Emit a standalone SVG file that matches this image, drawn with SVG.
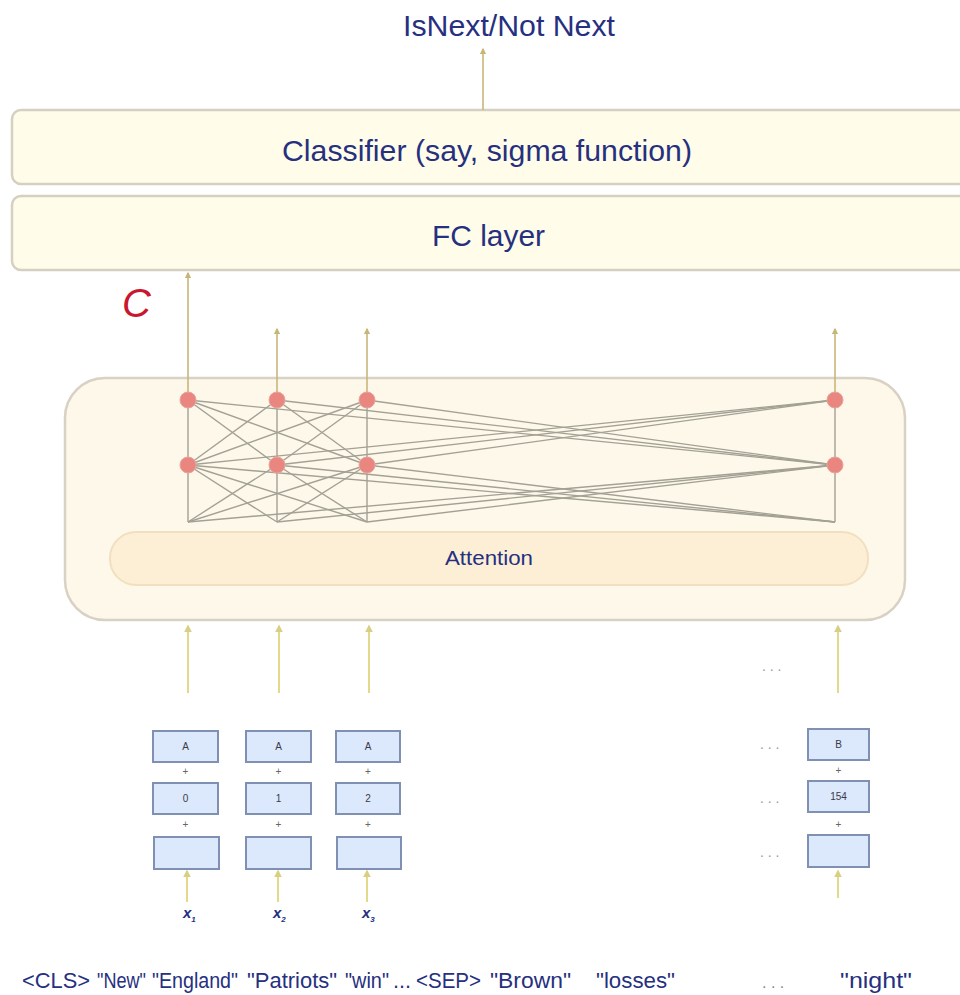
<svg xmlns="http://www.w3.org/2000/svg" width="960" height="995" viewBox="0 0 960 995">
  <defs>
    <style>
      .lbl { font-family: "Liberation Sans", Arial, sans-serif; fill: #26307f; }
      .big { font-size: 30px; }
      .layer { fill: #fffdea; stroke: #d6d0c2; stroke-width: 2.5; }
      .enc { fill: #fdf8ea; stroke: #d8d1c4; stroke-width: 2.5; }
      .att { fill: #fdefd6; stroke: #f1e0bf; stroke-width: 2; }
      .emb { fill: #dce8fb; stroke: #7f90b2; stroke-width: 2; }
      .embt { font-family: "Liberation Sans", Arial, sans-serif; font-size: 10px; fill: #3a3a4a; text-anchor: middle; }
      .plus { font-family: "Liberation Sans", Arial, sans-serif; font-size: 10px; fill: #666; text-anchor: middle; }
      .node { fill: #e8867f; stroke: #e8a39d; stroke-width: 1; }
      .mesh line { stroke: #a3a194; stroke-width: 1.4; }
      .up { stroke: #c8b679; stroke-width: 1.6; fill: none; marker-end: url(#ah); }
      .upin { stroke: #e3d98a; stroke-width: 2; fill: none; marker-end: url(#ahin); }
      .dots { font-family: "Liberation Sans", Arial, sans-serif; font-size: 14px; fill: #9a9a9a; }
    </style>
    <marker id="ah" viewBox="0 0 10 10" refX="8" refY="5" markerWidth="4" markerHeight="4" orient="auto">
      <path d="M0,0 L10,5 L0,10 z" fill="#c8b679"/>
    </marker>
    <marker id="ahin" viewBox="0 0 10 10" refX="8" refY="5" markerWidth="4" markerHeight="4" orient="auto">
      <path d="M0,0 L10,5 L0,10 z" fill="#d9cf84"/>
    </marker>
  </defs>

  <rect width="960" height="995" fill="#ffffff"/>

  <!-- output label -->
  <g id="output">
    <text class="lbl big" x="403" y="36" textLength="212" lengthAdjust="spacingAndGlyphs">IsNext/Not Next</text>
  </g>

  <!-- classifier head -->
  <g id="classifier">
    <rect class="layer" x="12" y="110" width="966" height="74" rx="9"/>
    <text class="lbl big" x="282" y="161" textLength="410" lengthAdjust="spacingAndGlyphs">Classifier (say, sigma function)</text>
  </g>
  <g id="fc">
    <rect class="layer" x="12" y="196" width="966" height="74" rx="9"/>
    <text class="lbl big" x="432" y="246" textLength="113" lengthAdjust="spacingAndGlyphs">FC layer</text>
  </g>

  <!-- pooled CLS output -->
  <g id="c-label">
    <text x="122" y="317" font-family="Liberation Sans, Arial, sans-serif" font-size="40" font-style="italic" fill="#c8172f">C</text>
  </g>

  <!-- encoder block -->
  <g id="encoder">
    <rect class="enc" x="65" y="378" width="840" height="242" rx="40"/>
  </g>
  <g id="attention">
    <rect class="att" x="110" y="532" width="758" height="53" rx="26"/>
    <text class="lbl" x="445" y="565" font-size="21" textLength="88" lengthAdjust="spacingAndGlyphs">Attention</text>
  </g>

  <!-- attention mesh and arrows -->
  <g id="connectors">
    <g class="mesh">
      <!-- verticals -->
      <line x1="188" y1="400" x2="188" y2="522"/>
      <line x1="277" y1="400" x2="277" y2="522"/>
      <line x1="367" y1="400" x2="367" y2="522"/>
      <line x1="835" y1="400" x2="835" y2="522"/>
      <!-- top row to middle row -->
      <line x1="188" y1="400" x2="277" y2="465"/>
      <line x1="188" y1="400" x2="367" y2="465"/>
      <line x1="188" y1="400" x2="835" y2="465"/>
      <line x1="277" y1="400" x2="188" y2="465"/>
      <line x1="277" y1="400" x2="367" y2="465"/>
      <line x1="277" y1="400" x2="835" y2="465"/>
      <line x1="367" y1="400" x2="188" y2="465"/>
      <line x1="367" y1="400" x2="277" y2="465"/>
      <line x1="367" y1="400" x2="835" y2="465"/>
      <line x1="835" y1="400" x2="188" y2="465"/>
      <line x1="835" y1="400" x2="277" y2="465"/>
      <line x1="835" y1="400" x2="367" y2="465"/>
      <!-- middle row to inputs -->
      <line x1="188" y1="465" x2="277" y2="522"/>
      <line x1="188" y1="465" x2="367" y2="522"/>
      <line x1="188" y1="465" x2="835" y2="522"/>
      <line x1="277" y1="465" x2="188" y2="522"/>
      <line x1="277" y1="465" x2="367" y2="522"/>
      <line x1="277" y1="465" x2="835" y2="522"/>
      <line x1="367" y1="465" x2="188" y2="522"/>
      <line x1="367" y1="465" x2="277" y2="522"/>
      <line x1="367" y1="465" x2="835" y2="522"/>
      <line x1="835" y1="465" x2="188" y2="522"/>
      <line x1="835" y1="465" x2="277" y2="522"/>
      <line x1="835" y1="465" x2="367" y2="522"/>
    </g>
    <!-- outputs going up -->
    <line class="up" x1="483" y1="110" x2="483" y2="49"/>
    <line class="up" x1="188" y1="392" x2="188" y2="273"/>
    <line class="up" x1="277" y1="392" x2="277" y2="329"/>
    <line class="up" x1="367" y1="392" x2="367" y2="329"/>
    <line class="up" x1="835" y1="392" x2="835" y2="329"/>
    <!-- inputs into encoder -->
    <line class="upin" x1="188" y1="693" x2="188" y2="626"/>
    <line class="upin" x1="279" y1="693" x2="279" y2="626"/>
    <line class="upin" x1="369" y1="693" x2="369" y2="626"/>
    <line class="upin" x1="838" y1="693" x2="838" y2="626"/>
    <!-- tokens into embeddings -->
    <line class="upin" x1="187" y1="902" x2="187" y2="871"/>
    <line class="upin" x1="278" y1="902" x2="278" y2="871"/>
    <line class="upin" x1="367" y1="902" x2="367" y2="871"/>
    <line class="upin" x1="838" y1="898" x2="838" y2="871"/>
  </g>

  <!-- hidden units -->
  <g id="nodes">
    <circle class="node" cx="188" cy="400" r="8"/>
    <circle class="node" cx="277" cy="400" r="8"/>
    <circle class="node" cx="367" cy="400" r="8"/>
    <circle class="node" cx="835" cy="400" r="8"/>
    <circle class="node" cx="188" cy="465" r="8"/>
    <circle class="node" cx="277" cy="465" r="8"/>
    <circle class="node" cx="367" cy="465" r="8"/>
    <circle class="node" cx="835" cy="465" r="8"/>
  </g>

  <!-- input embeddings: segment + position + token -->
  <g id="emb1">
    <rect class="emb" x="153" y="731" width="65" height="31"/>
    <text class="embt" x="185.5" y="750">A</text>
    <text class="plus" x="185.5" y="775">+</text>
    <rect class="emb" x="153" y="783" width="65" height="31"/>
    <text class="embt" x="185.5" y="802">0</text>
    <text class="plus" x="185.5" y="828">+</text>
    <rect class="emb" x="154" y="837" width="65" height="32"/>
    <text class="lbl" x="183" y="918" font-size="15" font-style="italic" font-weight="bold">x<tspan font-size="8" dy="4">1</tspan></text>
  </g>
  <g id="emb2">
    <rect class="emb" x="246" y="731" width="65" height="31"/>
    <text class="embt" x="278.5" y="750">A</text>
    <text class="plus" x="278.5" y="775">+</text>
    <rect class="emb" x="246" y="783" width="65" height="31"/>
    <text class="embt" x="278.5" y="802">1</text>
    <text class="plus" x="278.5" y="828">+</text>
    <rect class="emb" x="246" y="837" width="65" height="32"/>
    <text class="lbl" x="273" y="918" font-size="15" font-style="italic" font-weight="bold">x<tspan font-size="8" dy="4">2</tspan></text>
  </g>
  <g id="emb3">
    <rect class="emb" x="336" y="731" width="64" height="31"/>
    <text class="embt" x="368" y="750">A</text>
    <text class="plus" x="368" y="775">+</text>
    <rect class="emb" x="336" y="783" width="64" height="31"/>
    <text class="embt" x="368" y="802">2</text>
    <text class="plus" x="368" y="828">+</text>
    <rect class="emb" x="337" y="837" width="64" height="32"/>
    <text class="lbl" x="362" y="918" font-size="15" font-style="italic" font-weight="bold">x<tspan font-size="8" dy="4">3</tspan></text>
  </g>
  <g id="emb4">
    <rect class="emb" x="808" y="729" width="61" height="31"/>
    <text class="embt" x="838.5" y="748">B</text>
    <text class="plus" x="838.5" y="774">+</text>
    <rect class="emb" x="808" y="781" width="61" height="31"/>
    <text class="embt" x="838.5" y="800">154</text>
    <text class="plus" x="838.5" y="828">+</text>
    <rect class="emb" x="808" y="835" width="61" height="32"/>
  </g>

  <!-- elided columns -->
  <g id="ellipses">
    <text class="dots" x="762" y="671">. . .</text>
    <text class="dots" x="760" y="749">. . .</text>
    <text class="dots" x="760" y="803">. . .</text>
    <text class="dots" x="760" y="857">. . .</text>
  </g>

  <!-- input sentence pair -->
  <g id="tokens" font-family="Liberation Sans, Arial, sans-serif" font-size="22" fill="#26307f" lengthAdjust="spacingAndGlyphs">
    <text x="22" y="988" textLength="68" lengthAdjust="spacingAndGlyphs">&lt;CLS&gt;</text>
    <text x="97" y="988" textLength="49" lengthAdjust="spacingAndGlyphs">"New"</text>
    <text x="152" y="988" textLength="86" lengthAdjust="spacingAndGlyphs">"England"</text>
    <text x="247" y="988" textLength="90" lengthAdjust="spacingAndGlyphs">"Patriots"</text>
    <text x="345" y="988" textLength="44" lengthAdjust="spacingAndGlyphs">"win"</text>
    <text x="393" y="988" textLength="18" lengthAdjust="spacingAndGlyphs">...</text>
    <text x="416" y="988" textLength="65" lengthAdjust="spacingAndGlyphs">&lt;SEP&gt;</text>
    <text x="490" y="988" textLength="81" lengthAdjust="spacingAndGlyphs">"Brown"</text>
    <text x="596" y="988" textLength="79" lengthAdjust="spacingAndGlyphs">"losses"</text>
    <text x="762" y="988" fill="#8a8a9a" font-size="16">. . .</text>
    <text x="840" y="988" textLength="72" lengthAdjust="spacingAndGlyphs">"night"</text>
  </g>
</svg>
